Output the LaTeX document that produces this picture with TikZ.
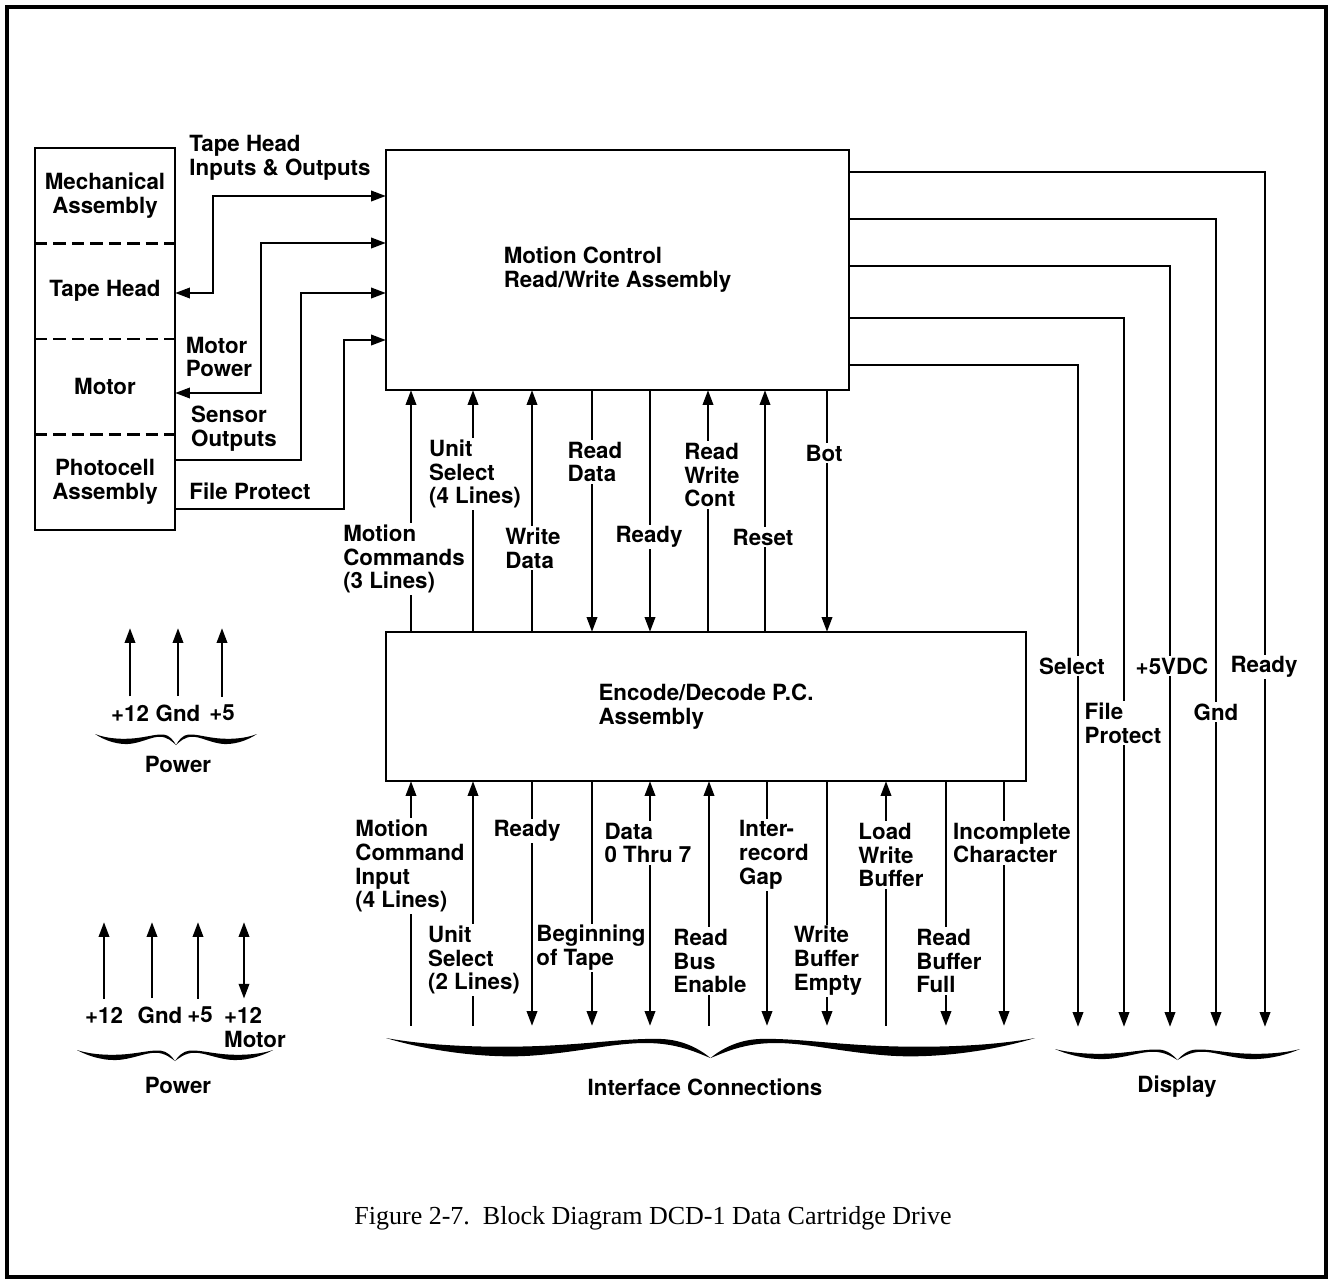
\documentclass[tikz,border=0pt]{standalone}
\usepackage{fontspec}
\setmainfont{TeX Gyre Heros}
\newfontfamily\capfont{Liberation Serif}
\usetikzlibrary{arrows.meta,positioning}

\newcommand\sigfont{\fontsize{12.7}{13.6}\selectfont\bfseries}
% calligraphic under-brace: left x, right x, top y, depth
\newcommand\cbrace[4]{%
  \pgfmathsetmacro\cbw{(#2-#1)/2}%
  \foreach \s in {1,-1}
    \fill[shift={({(#1+#2)/2},#3)},xscale=\s*\cbw,yscale=#4]
      (-1,0) .. controls (-0.85,0.45) and (-0.65,0.5) .. (-0.5,0.38)
      .. controls (-0.35,0.26) and (-0.25,0.0) .. (-0.15,0.05)
      .. controls (-0.08,0.1) and (-0.03,0.6) .. (0,1)
      .. controls (-0.04,0.75) and (-0.1,0.25) .. (-0.2,0.25)
      .. controls (-0.3,0.25) and (-0.4,0.7) .. (-0.55,0.88)
      .. controls (-0.7,1.05) and (-0.88,0.6) .. (-1,0) -- cycle;
}

\begin{document}
\begin{tikzpicture}[x=0.02cm,y=-0.02cm,line width=1.6pt,
  >={Triangle[length=8.5pt,width=5.8pt]},
  every node/.style={font=\sigfont},
  blk/.style={draw,line width=1.6pt,inner sep=0pt,outer sep=0pt,align=left},
  cell/.style={inner sep=0pt,outer sep=0pt,minimum width=2.8cm,minimum height=1.91cm,align=center},
  tag/.style={align=left,inner sep=1pt},
  cut/.style={tag,fill=white},
  sep/.style={line width=1.4pt,dash pattern=on 7pt off 3.5pt}]
\useasboundingbox (0,0) rectangle (1332,1281);
\draw[line width=2pt] (7,7) rectangle (1326,1277);

% drive parts
\node[cell,anchor=north] (mech) at (105,148) {Mechanical\\Assembly};
\node[cell,below=0pt of mech] (thead) {Tape Head};
\node[cell,below=0pt of thead] (motor) {Motor};
\node[cell,below=0pt of motor] (photo) {Photocell\\Assembly};
\draw (mech.north west) rectangle (photo.south east);
\foreach \c in {mech,thead,motor}
  \draw[sep] (\c.south west) -- (\c.south east);

% boards
\node[blk,minimum width=9.26cm,minimum height=4.8cm] (mcr) at (617.5,270) {Motion Control\\Read/Write Assembly};
\node[blk,minimum width=12.8cm,minimum height=2.98cm] (enc) at (706,706.5) {Encode/Decode P.C.\\Assembly};

% drive <-> motion control
\draw[<->] (thead.east |- 0,293) -| (213,196) -- (mcr.west |- 0,196);
\draw[<->] (motor.east |- 0,393) -| (261,243) -- (mcr.west |- 0,243);
\draw[->] (photo.east |- 0,460) -| (301,293) -- (mcr.west |- 0,293);
\draw[->] (photo.east |- 0,509) -| (344,340) -- (mcr.west |- 0,340);
\node[tag] (thio) at (280,158) {Tape Head\\Inputs \& Outputs};
\node[tag] (mpow) at (219,357) {Motor\\Power};
\node[tag] (sout) at (234,429) {Sensor\\Outputs};
\node[tag] (fprot) at (250,491) {File Protect};

% motion control <-> encode/decode
\foreach \x/\a in {411/->,473/->,532/->,592/<-,650/<-,708/->,765/->,827/<-}
  \draw[\a] (\x,0 |- enc.north) -- (\x,0 |- mcr.south);
\node[cut] (mc3) at (404,559) {Motion\\Commands\\(3 Lines)};
\node[cut] (us4) at (475,474) {Unit\\Select\\(4 Lines)};
\node[cut] (wdat) at (533,548) {Write\\Data};
\node[cut] (rdat) at (595,462) {Read\\Data};
\node[cut] (rdy1) at (649,537) {Ready};
\node[cut] (rwc) at (712,475) {Read\\Write\\Cont};
\node[cut] (rst) at (763,537) {Reset};
\node[cut] (bot) at (824,453) {Bot};

% interface lines
\coordinate (ifc) at (0,1026);
\foreach \x/\a in {411/<-,473/<-,532/->,592/->,650/<->,709/<-,767/->,827/->,886/<-,946/->,1004/->}
  \draw[\a] (\x,0 |- enc.south) -- (\x,0 |- ifc);
\node[cut] (mci) at (410,866) {Motion\\Command\\Input\\(4 Lines)};
\node[cut] (us2) at (474,960) {Unit\\Select\\(2 Lines)};
\node[cut] (rdy2) at (527,831) {Ready};
\node[cut] (bots) at (591,948) {Beginning\\of Tape};
\node[cut] (d07) at (648,843) {Data\\0 Thru 7};
\node[cut] (rbe) at (710,961) {Read\\Bus\\Enable};
\node[cut] (irg) at (774,855) {Inter-\\record\\Gap};
\node[cut] (wbe) at (828,961) {Write\\Buffer\\Empty};
\node[cut] (lwb) at (891,855) {Load\\Write\\Buffer};
\node[cut] (rbf) at (949,961) {Read\\Buffer\\Full};
\node[cut] (ichr) at (1012,843) {Incomplete\\Character};
\cbrace{386}{1035}{1038}{20}
\node[tag] (ifcl) at (705,1087) {Interface Connections};

% display lines
\coordinate (dsp) at (0,1027);
\foreach \y/\x in {172/1265,219/1216,266/1170,318/1124,365/1078}
  \draw[->] (mcr.east |- 0,\y) -| (\x,0 |- dsp);
\node[cut] (dsel) at (1072,666) {Select};
\node[cut] (dfp) at (1123,723) {File\\Protect};
\node[cut] (d5v) at (1172,666) {+5VDC};
\node[cut] (dgnd) at (1216,712) {Gnd};
\node[cut] (drdy) at (1264,667) {Ready};
\cbrace{1055}{1300}{1049}{11}
\node[tag] (dspl) at (1177,1087) {Display};

% power, logic
\node[tag] (pa) at (130,713) {+12};
\node[tag] (pb) at (178,713) {Gnd};
\node[tag] (pc) at (222,713) {+5};
\foreach \n in {pa,pb,pc}
  \draw[->,shorten <=3pt] (\n.north) -- (\n.north |- 0,628);
\cbrace{95}{257}{734}{11}
\node[tag] (pwr1) at (178,764) {Power};

% power, drive
\coordinate (ptop) at (0,922);
\node[tag] (qa) at (104,1015) {+12};
\node[tag] (qb) at (160,1015) {Gnd};
\node[tag] (qc) at (200,1015) {+5};
\node[tag,anchor=north west] (qd) at (221,1004) {+12\\Motor};
\draw[->,shorten <=3pt] (qa.north) -- (qa.north |- ptop);
\draw[->,shorten <=3pt] (152,0 |- qb.north) -- (152,0 |- ptop);
\draw[->,shorten <=3pt] (198,0 |- qc.north) -- (198,0 |- ptop);
\draw[<->,shorten <=3pt] (244,0 |- qd.north) -- (244,0 |- ptop);
\cbrace{77}{273}{1050}{11}
\node[tag] (pwr2) at (178,1085) {Power};

\node[font=\capfont\fontsize{14.8}{16}\selectfont] (cap) at (653,1218) {Figure 2-7.\ \ Block Diagram DCD-1 Data Cartridge Drive};
\end{tikzpicture}
\end{document}
